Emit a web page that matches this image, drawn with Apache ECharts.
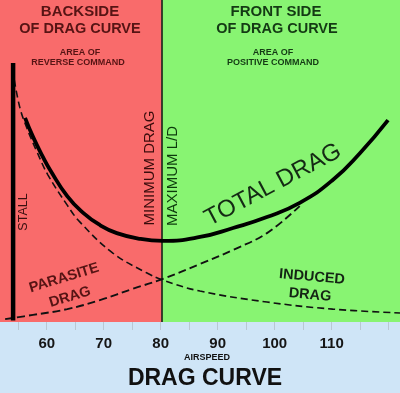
<!DOCTYPE html>
<html>
<head>
<meta charset="utf-8">
<script src="https://cdn.jsdelivr.net/npm/echarts@6/dist/echarts.min.js"></script>
<style>html,body{margin:0;padding:0;}#c{width:400px;height:393px;}</style>
</head>
<body>
<div id="c"></div>
<script>
// Airspeed (knots) / drag (relative units)
const totalSpeed = [56.2, 57.6, 59.35, 60.6, 63.6, 66.4, 69.35, 72.3, 76.4, 80.4, 86.9, 92.7, 98.65, 104.4, 110.2, 115.0, 119.9];
const totalDrag  = [63.4, 57.5, 51.2, 47.2, 39.1, 33.9, 30.1, 27.6, 25.8, 25.2, 26.4, 29.2, 32.6, 37.0, 44.1, 52.5, 62.7];

const parasiteSpeed = [52.7, 57.6, 63.6, 69.35, 75.1, 80.4, 86.9, 92.7, 98.65, 104.4];
const parasiteDrag  = [0.9, 2.2, 4.0, 6.8, 10.3, 13.4, 18.0, 22.4, 27.6, 36.0];

const inducedSpeed = [54.3, 55.3, 56.5, 58.3, 60.2, 63.6, 65.8, 71.6, 77.6, 80.4, 86.9, 98.65, 110.2, 122.0];
const inducedDrag  = [75.2, 66.5, 60.3, 52.8, 45.7, 36.3, 31.1, 21.4, 15.2, 13.0, 9.6, 6.2, 4.0, 2.8];

const stallSpeed = 54.1;
const stallTop = 80.4;
const minDragSpeed = 80.2;

const tickLabels = [60, 70, 80, 90, 100, 110];
const tickMarks = [55, 60, 65, 70, 75, 80, 85, 90, 95, 100, 105, 110, 115, 120];

const xMin = 51.8, xMax = 122.0, yMin = 0, yMax = 100;

const zip = (a, b) => a.map((v, i) => [v, b[i]]);

const chart = echarts.init(document.getElementById('c'), null, {renderer: 'canvas'});

const RED = '#f96b6b', GREEN = '#88f472', BLUE = '#cfe5f7';
const darkRed = '#561414', darkGreen = '#143a14';

function txt(x, y, text, font, fill, rot) {
  return {type: 'text', x: x, y: y, rotation: rot || 0, z: 100,
    style: {text: text, font: font, fill: fill, align: 'center', verticalAlign: 'middle'}};
}

chart.setOption({
  animation: false,
  backgroundColor: BLUE,
  grid: {left: 0, right: 0, top: 0, bottom: 71},
  xAxis: {
    type: 'value', min: xMin, max: xMax,
    axisLine: {show: false},
    splitLine: {show: false},
    axisTick: {show: true, customValues: tickMarks, length: 8, lineStyle: {color: '#b9c7d3', width: 1}},
    axisLabel: {customValues: tickLabels, margin: 14, fontFamily: 'Liberation Sans', fontWeight: 'bold', fontSize: 15, color: '#151515'}
  },
  yAxis: {type: 'value', min: yMin, max: yMax, show: false},
  series: [
    {
      type: 'line', data: [], silent: true,
      markArea: {silent: true, data: [
        [{xAxis: xMin, itemStyle: {color: RED}}, {xAxis: minDragSpeed}],
        [{xAxis: minDragSpeed, itemStyle: {color: GREEN}}, {xAxis: xMax}]
      ]},
      markLine: {silent: true, symbol: 'none', label: {show: false},
        lineStyle: {color: '#111', width: 1.5, type: 'solid'},
        data: [{xAxis: minDragSpeed}]}
    },
    {
      name: 'Stall', type: 'line', data: [[stallSpeed, 0.5], [stallSpeed, stallTop]],
      showSymbol: false, lineStyle: {color: '#000', width: 4.5}, z: 5
    },
    {
      name: 'Induced', type: 'line', data: zip(inducedSpeed, inducedDrag), smooth: 0.4,
      showSymbol: false, lineStyle: {color: '#111', width: 1.6, type: [7, 4]}, z: 4
    },
    {
      name: 'Parasite', type: 'line', data: zip(parasiteSpeed, parasiteDrag), smooth: 0.4,
      showSymbol: false, lineStyle: {color: '#111', width: 1.9, type: [8, 4]}, z: 4
    },
    {
      name: 'Total', type: 'line', data: zip(totalSpeed, totalDrag), smooth: 0.5,
      showSymbol: false, lineStyle: {color: '#000', width: 3.8}, z: 6
    }
  ],
  graphic: [
    txt(80, 12, 'BACKSIDE', 'bold 15px "Liberation Sans"', darkRed),
    txt(80, 29, 'OF DRAG CURVE', 'bold 14.5px "Liberation Sans"', darkRed),
    txt(80, 53, 'AREA OF', 'bold 9px "Liberation Sans"', darkRed),
    txt(78, 63, 'REVERSE COMMAND', 'bold 9px "Liberation Sans"', darkRed),
    txt(276, 12, 'FRONT SIDE', 'bold 15px "Liberation Sans"', darkGreen),
    txt(277, 29, 'OF DRAG CURVE', 'bold 14.5px "Liberation Sans"', darkGreen),
    txt(273, 53, 'AREA OF', 'bold 9px "Liberation Sans"', darkGreen),
    txt(273, 63, 'POSITIVE COMMAND', 'bold 9px "Liberation Sans"', darkGreen),
    txt(24, 212, 'STALL', '12.5px "Liberation Sans"', '#3a1010', Math.PI / 2),
    txt(150, 168, 'MINIMUM DRAG', '15px "Liberation Sans"', '#3a0c0c', Math.PI / 2),
    txt(173, 176, 'MAXIMUM L/D', '15px "Liberation Sans"', '#0c3a0c', Math.PI / 2),
    txt(273, 185, 'TOTAL DRAG', '24px "Liberation Sans"', '#142a14', 28 * Math.PI / 180),
    txt(64, 278, 'PARASITE', 'bold 14.5px "Liberation Sans"', darkRed, 17 * Math.PI / 180),
    txt(70, 297, 'DRAG', 'bold 14.5px "Liberation Sans"', darkRed, 17 * Math.PI / 180),
    txt(312, 277, 'INDUCED', 'bold 14.5px "Liberation Sans"', '#142414', -5 * Math.PI / 180),
    txt(310, 295, 'DRAG', 'bold 14.5px "Liberation Sans"', '#142414', -5 * Math.PI / 180),
    txt(207, 358, 'AIRSPEED', 'bold 9px "Liberation Sans"', '#111'),
    txt(205, 379, 'DRAG CURVE', 'bold 23px "Liberation Sans"', '#111')
  ]
});
</script>
</body>
</html>
